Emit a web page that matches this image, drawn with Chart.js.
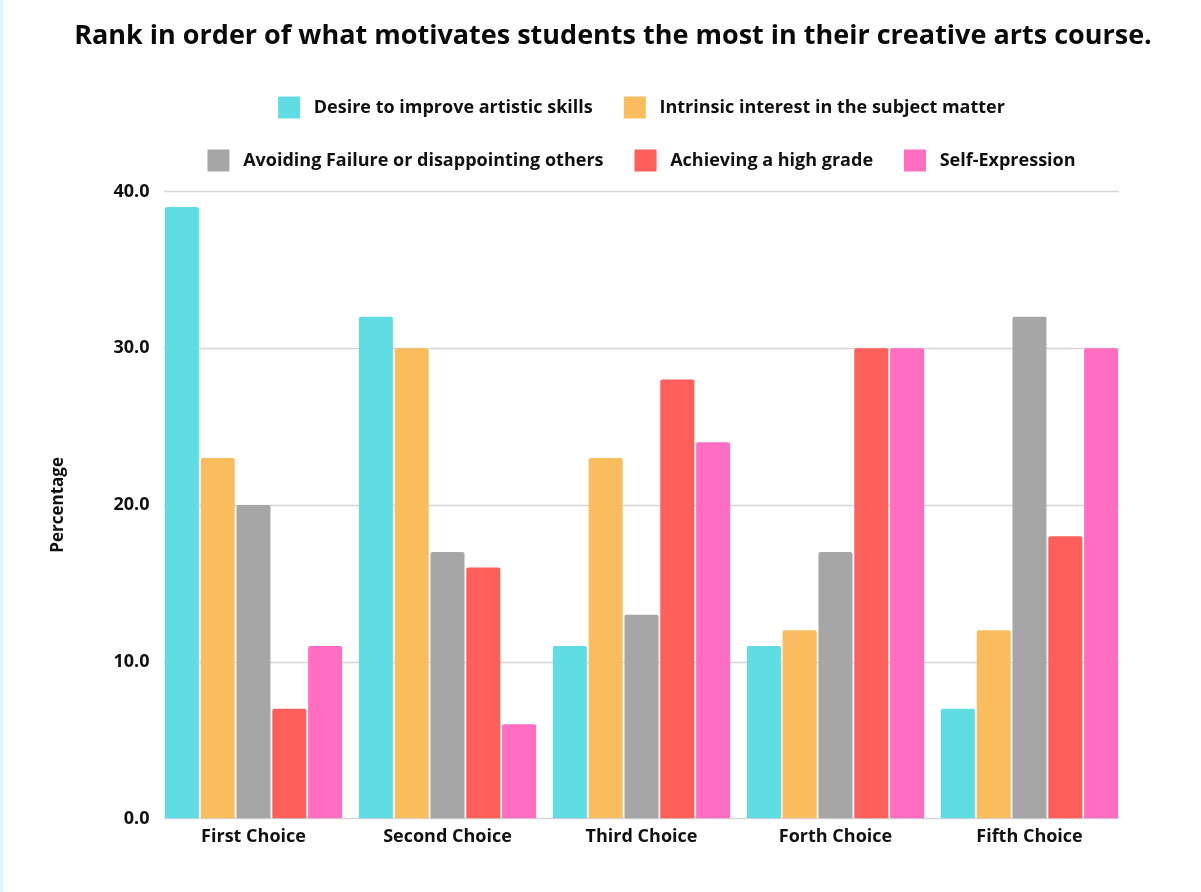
<!DOCTYPE html>
<html>
<head>
<meta charset="utf-8">
<title>Creative arts motivation ranking</title>
<script src="https://cdn.jsdelivr.net/npm/chart.js@4/dist/chart.umd.min.js"></script>
<style>
  html, body { margin: 0; padding: 0; background: #ffffff; overflow: hidden; }
  body { width: 1201px; height: 892px; position: relative; }
  #edge { position: absolute; left: 0; top: 0; width: 3px; height: 892px; background: #dcf8fc; z-index: 2; }
  #wrap { position: absolute; left: 0; top: 0; width: 1226px; height: 892px; }
</style>
</head>
<body>
<div id="edge"></div>
<div id="wrap"><canvas id="chart" width="1226" height="892"></canvas></div>
<script>
// Categories (rank position) and percentage of students per motivation
const categories = ['First Choice', 'Second Choice', 'Third Choice', 'Forth Choice', 'Fifth Choice'];
const desireToImprove = [39, 32, 11, 11, 7];
const intrinsicInterest = [23, 30, 23, 12, 12];
const avoidingFailure = [20, 17, 13, 17, 32];
const highGrade = [7, 16, 28, 30, 18];
const selfExpression = [11, 6, 24, 30, 30];
const yTicks = [0, 10, 20, 30, 40];

const seriesNames = [
  'Desire to improve artistic skills',
  'Intrinsic interest in the subject matter',
  'Avoiding Failure or disappointing others',
  'Achieving a high grade',
  'Self-Expression'
];
const seriesColors = ['#60dde3', '#f9bd5f', '#a6a6a6', '#fe5f5a', '#ff6ec1'];
const seriesValues = [desireToImprove, intrinsicInterest, avoidingFailure, highGrade, selfExpression];

const FONT = '"Open Sans", "DejaVu Sans", sans-serif';
const CAT_PCT = 0.923;
const BAR_PCT = 0.95;

// Horizontal grid lines spanning only the width covered by the bar groups
const groupGrid = {
  id: 'groupGrid',
  beforeDatasetsDraw(chart) {
    const { ctx, chartArea, scales: { y } } = chart;
    const catWidth = (chartArea.right - chartArea.left) / categories.length;
    const inset = catWidth * (1 - CAT_PCT) / 2;
    const left = chartArea.left + inset;
    const right = chartArea.right - inset;
    ctx.save();
    ctx.strokeStyle = '#d6d6d6';
    ctx.lineWidth = 1.5;
    yTicks.forEach(v => {
      const py = Math.round(y.getPixelForValue(v)) + 0.5;
      ctx.beginPath();
      ctx.moveTo(left, py);
      ctx.lineTo(right, py);
      ctx.stroke();
    });
    ctx.restore();
  }
};

new Chart(document.getElementById('chart'), {
  type: 'bar',
  data: {
    labels: categories,
    datasets: seriesNames.map((name, i) => ({
      label: name,
      data: seriesValues[i],
      backgroundColor: seriesColors[i],
      borderWidth: 0,
      borderRadius: { topLeft: 2, topRight: 2 },
      borderSkipped: 'bottom',
      categoryPercentage: CAT_PCT,
      barPercentage: BAR_PCT
    }))
  },
  options: {
    responsive: false,
    animation: false,
    devicePixelRatio: 1,
    layout: { padding: { left: 0, right: 0, top: 0, bottom: 36 } },
    plugins: {
      title: {
        display: true,
        text: 'Rank in order of what motivates students the most in their creative arts course.',
        color: '#0a0a0a',
        font: { family: FONT, size: 27, weight: 'bold', lineHeight: 1.2 },
        padding: { top: 20, bottom: 13 }
      },
      // empty spacer block between the legend and the plot
      subtitle: {
        display: true,
        text: '',
        fullSize: false,
        weight: 500,
        font: { size: 10, lineHeight: 1 },
        padding: 0
      },
      legend: {
        position: 'top',
        fullSize: false,
        labels: {
          boxWidth: 22,
          boxHeight: 22,
          padding: 31,
          color: '#111111',
          font: { family: FONT, size: 18, weight: 'bold' },
          generateLabels(chart) {
            return Chart.defaults.plugins.legend.labels.generateLabels(chart)
              .map(item => Object.assign(item, { text: ' ' + item.text }));
          }
        }
      },
      tooltip: { enabled: false }
    },
    scales: {
      x: {
        grid: { display: false, drawTicks: false },
        border: { display: false },
        ticks: {
          color: '#111111',
          padding: 8,
          font: { family: FONT, size: 18, weight: 'bold' }
        }
      },
      y: {
        min: 0,
        max: 40,
        afterFit(scale) { scale.width = 156.5; },
        afterBuildTicks(scale) { scale.ticks = yTicks.map(v => ({ value: v })); },
        grid: { display: false, drawTicks: false },
        border: { display: false },
        ticks: {
          color: '#111111',
          padding: 7,
          font: { family: FONT, size: 18, weight: 'bold' },
          callback: v => Number(v).toFixed(1)
        },
        title: {
          display: true,
          text: 'Percentage',
          color: '#111111',
          font: { family: FONT, size: 17, weight: 'bold', lineHeight: 1.2 },
          padding: { top: 48, bottom: 0 }
        }
      },
      // blank right-hand margin column
      yMargin: {
        type: 'linear',
        position: 'right',
        afterFit(scale) { scale.width = 99.5; },
        grid: { display: false, drawTicks: false },
        border: { display: false },
        ticks: { display: false }
      }
    }
  },
  plugins: [groupGrid]
});
</script>
</body>
</html>
